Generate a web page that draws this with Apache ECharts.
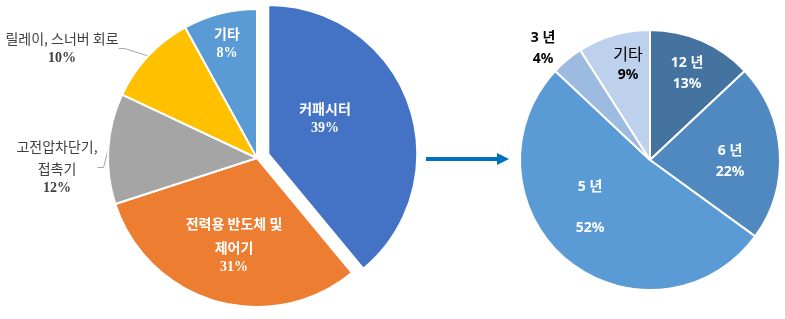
<!DOCTYPE html>
<html><head><meta charset="utf-8">
<script src="https://cdn.jsdelivr.net/npm/echarts@6/dist/echarts.min.js"></script>
<style>html,body{margin:0;padding:0;background:#fff}#c{width:785px;height:319px}</style>
</head><body><div id="c"></div>
<script>
// ---- data ----
const leftNames = ['커패시터', '전력용 반도체 및\n제어기', '고전압차단기,\n접촉기', '릴레이, 스너버 회로', '기타'];
const leftValues = [39, 31, 12, 10, 8];
const rightNames = ['12 년', '6 년', '5 년', '3 년', '기타'];
const rightValues = [13, 22, 52, 4, 9];

// ---- styles / layout ----
const leftColors = ['#4472C4', '#ED7D31', '#A5A5A5', '#FFC000', '#5B9BD5'];
const rightColors = ['#44739F', '#5089C0', '#5B9BD5', '#9DBAE0', '#BED1EC'];
const KR = '"Noto Sans CJK KR", sans-serif';
const SANS = '"Noto Sans", "Noto Sans CJK KR", sans-serif';
const SERIF = '"Liberation Serif", "Times New Roman", serif';

const leftCenter = [257, 158];
const explodeIndex = 0;
const explodeDist = 12;
const leftLabelPos = [[325, 116], [234, 243], [57, 166], [62, 47], [227, 41]];
const leftOutside = [false, false, true, true, false];
const rightLabelPos = [[687, 72], [730, 160], [590, 206], [543, 47], [628, 63]];

// exploded slice centre, from the slice's bisector angle
const total = leftValues.reduce((a, b) => a + b, 0);
let before = 0;
for (let i = 0; i < explodeIndex; i++) before += leftValues[i];
const midAng = (before + leftValues[explodeIndex] / 2) / total * 2 * Math.PI;
const explodedCenter = [leftCenter[0] + explodeDist * Math.sin(midAng), leftCenter[1] - explodeDist * Math.cos(midAng)];

function leftFmt(p) {
  const i = p.dataIndex;
  const lines = p.name.split('\n');
  const st = leftOutside[i] ? 'o' : 'n';
  return lines.map(l => '{' + st + '|' + l + '}').join('\n') + '\n{' + (leftOutside[i] ? 'op' : 'p') + '|' + p.value + '%}';
}
function rightFmt(p) {
  const i = p.dataIndex;
  if (i === 2) return '{n|' + p.name + '}\n{gap|}\n{p|' + p.value + '%}';
  if (i === 3) return '{bn|' + p.name + '}\n{bp|' + p.value + '%}';
  if (i === 4) return '{kn|' + p.name + '}\n{kp|' + p.value + '%}';
  return '{n|' + p.name + '}\n{p|' + p.value + '%}';
}

const leftRich = {
  n: {fontFamily: KR, fontWeight: 'bold', fontSize: 14, color: '#fff', lineHeight: 24, align: 'center'},
  p: {fontFamily: SERIF, fontWeight: 'bold', fontSize: 14, color: '#fff', lineHeight: 14, align: 'center'},
  o: {fontFamily: KR, fontSize: 14, color: '#404040', lineHeight: 22, align: 'center'},
  op: {fontFamily: SERIF, fontWeight: 'bold', fontSize: 14, color: '#404040', lineHeight: 16, align: 'center'}
};

function leftSeries(showMain) {
  // showMain: true -> all slices except exploded; false -> only exploded slice
  const c = showMain ? leftCenter : explodedCenter;
  return {
    type: 'pie',
    center: c,
    radius: [0, 149],
    startAngle: 90,
    clockwise: true,
    emphasis: {disabled: true},
    silent: true,
    data: leftValues.map((v, i) => {
      const vis = showMain ? i !== explodeIndex : i === explodeIndex;
      return {
        value: v, name: leftNames[i],
        itemStyle: vis ? {color: leftColors[i], borderColor: '#fff', borderWidth: 2}
                       : {color: 'rgba(0,0,0,0)', borderColor: 'rgba(0,0,0,0)', borderWidth: 0},
        label: {show: vis, position: leftOutside[i] ? 'outside' : 'inside', overflow: 'none'},
        labelLine: {show: vis && leftOutside[i], length: 12, length2: 6, lineStyle: {color: '#A6A6A6', width: 1}}
      };
    }),
    label: {show: true, formatter: leftFmt, rich: leftRich, overflow: 'none'},
    labelLayout: function (p) {
      const q = leftLabelPos[p.dataIndex];
      return {x: q[0], y: q[1], align: 'center', verticalAlign: 'middle', hideOverlap: false};
    }
  };
}

const chart = echarts.init(document.getElementById('c'), null, {renderer: 'canvas'});
chart.setOption({
  animation: false,
  series: [
    leftSeries(true),
    leftSeries(false),
    {
      type: 'pie',
      center: [650, 160],
      radius: [0, 130],
      startAngle: 90,
      clockwise: true,
      emphasis: {disabled: true},
      silent: true,
      itemStyle: {borderColor: '#fff', borderWidth: 2},
      data: rightValues.map((v, i) => ({
        value: v, name: rightNames[i],
        itemStyle: {color: rightColors[i]}
      })),
      label: {
        show: true,
        position: 'inside',
        overflow: 'none',
        formatter: rightFmt,
        rich: {
          n: {fontFamily: SANS, fontWeight: 'bold', fontSize: 14, color: '#fff', lineHeight: 24, align: 'center'},
          p: {fontFamily: SANS, fontWeight: 'bold', fontSize: 14, color: '#fff', lineHeight: 18, align: 'center'},
          gap: {fontSize: 1, lineHeight: 20},
          bn: {fontFamily: SANS, fontWeight: 'bold', fontSize: 14, color: '#000', lineHeight: 25, align: 'center'},
          bp: {fontFamily: SANS, fontWeight: 'bold', fontSize: 14, color: '#000', lineHeight: 18, align: 'center'},
          kn: {fontFamily: KR, fontSize: 16, color: '#000', lineHeight: 24, align: 'center'},
          kp: {fontFamily: SANS, fontWeight: 'bold', fontSize: 14, color: '#000', lineHeight: 18, align: 'center'}
        }
      },
      labelLine: {show: false},
      labelLayout: function (p) {
        const q = rightLabelPos[p.dataIndex];
        return {x: q[0], y: q[1], align: 'center', verticalAlign: 'middle', hideOverlap: false};
      }
    }
  ],
  graphic: [
    {type: 'line', shape: {x1: 426, y1: 159, x2: 499, y2: 159}, style: {stroke: '#0070C0', lineWidth: 4}},
    {type: 'polygon', shape: {points: [[497, 153], [509, 159], [497, 165]]}, style: {fill: '#0070C0'}}
  ]
});
</script></body></html>
